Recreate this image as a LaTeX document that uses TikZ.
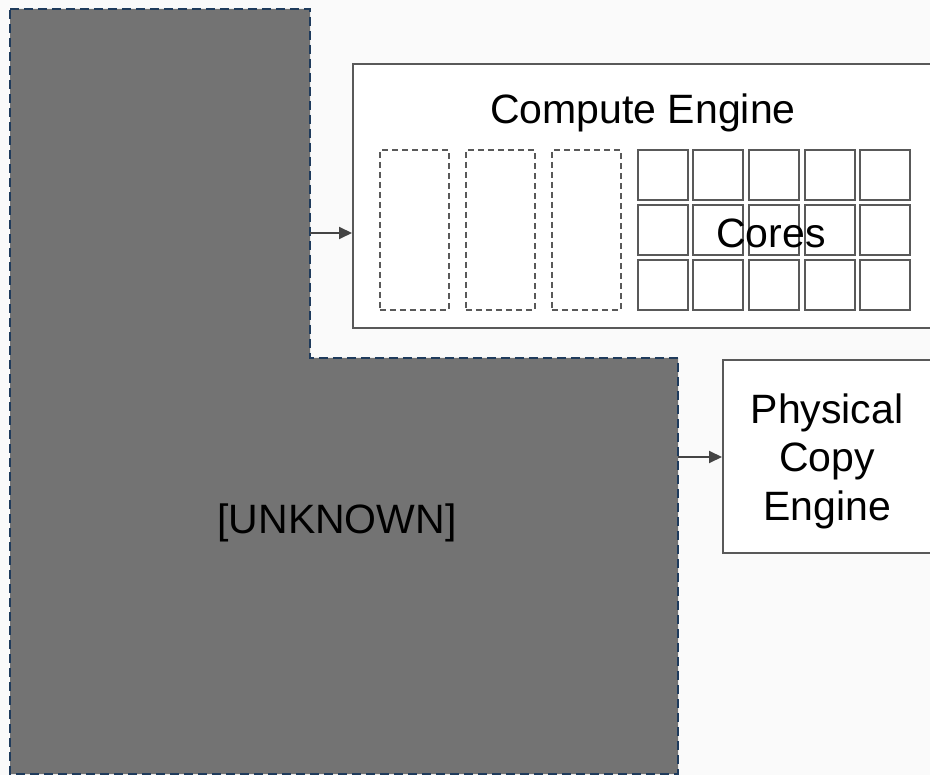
\documentclass[tikz,border=0pt]{standalone}
\usepackage{fontspec}
\setmainfont{Liberation Sans}
\usetikzlibrary{arrows.meta}
\definecolor{bg}{HTML}{FAFAFA}
\definecolor{greyfill}{HTML}{737373}
\definecolor{navy}{HTML}{1F3B5C}
\definecolor{edge}{HTML}{595959}
\definecolor{arrowc}{HTML}{444444}
\tikzset{
  every node/.style={font=\fontsize{41}{48.5}\selectfont, inner sep=0pt},
  enginebox/.style={draw=edge, line width=2pt, fill=white},
  slotbox/.style={draw=edge, line width=1.6pt, dash pattern=on 6pt off 4pt},
  corebox/.style={draw=edge, line width=2pt, fill=white},
  link/.style={draw=arrowc, line width=2pt, -{Triangle[length=13pt,width=12pt]}},
}
\begin{document}
\begin{tikzpicture}[x=1pt,y=-1pt]
\useasboundingbox (0,0) rectangle (930,775);
\clip (0,0) rectangle (930,775);
\fill[bg] (0,0) rectangle (930,775);
% grey L-shaped region
\draw[fill=greyfill, draw=navy, line width=2.5pt, dash pattern=on 9pt off 5pt]
  (10,9) -- (310,9) -- (310,358) -- (678,358) -- (678,774) -- (10,774) -- cycle;
\node (unk) at (337,523) {[UNKNOWN]};
\coordinate (srcA) at (310,233);
\coordinate (srcB) at (678,457);
% compute engine
\node[enginebox, minimum width=600pt, minimum height=264pt, anchor=north west] (ce) at (352,63) {};
\node (cetitle) at (643,113) {Compute Engine};
\foreach \x/\n in {379/s1, 465/s2, 551/s3}{
  \node[slotbox, minimum width=69pt, minimum height=160pt, anchor=north west] (\n) at (\x,149) {};
}
\foreach \x [count=\i] in {637,692,748,804,859}{
  \foreach \y [count=\j] in {149,204,259}{
    \node[corebox, minimum width=50pt, minimum height=50pt, anchor=north west] (c\i\j) at (\x,\y) {};
  }
}
\node (cores) at (771,233) {Cores};
% physical copy engine
\node[enginebox, minimum width=230pt, minimum height=193pt, anchor=north west] (pce) at (722,359) {};
\node[align=center] (pcet) at (827,461) {Physical\\Copy\\Engine};
% connectors
\draw[link] (srcA) -- (ce.west |- srcA);
\draw[link] (srcB) -- (pce.west |- srcB);
\end{tikzpicture}
\end{document}
